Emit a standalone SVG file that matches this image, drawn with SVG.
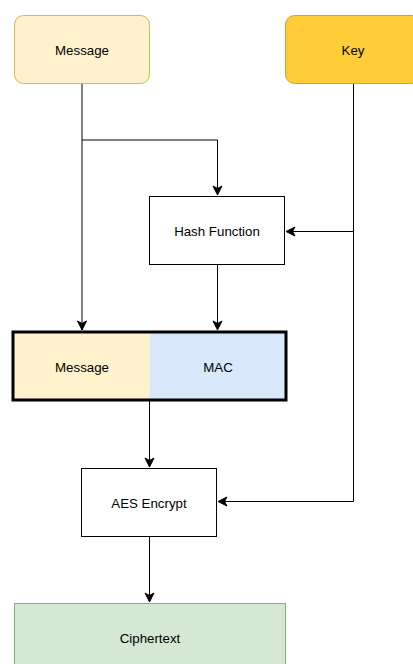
<svg xmlns="http://www.w3.org/2000/svg" width="413" height="664" viewBox="0 0 413 664">
  <style>
    .lbl { font-family: "Liberation Sans", Arial, Helvetica, sans-serif; font-size: 13.3px; fill: #000; text-anchor: middle; dominant-baseline: central; }
    .edge { fill: none; stroke: #000; stroke-width: 1; }
    .plain { fill: #fff; stroke: #000; stroke-width: 1; }
  </style>
  <defs>
    <marker id="arrow" markerUnits="userSpaceOnUse" markerWidth="12" markerHeight="12" viewBox="-10 -6 12 12" refX="0" refY="0" orient="auto">
      <path d="M0,0 L-9,-4.5 L-6.5,0 L-9,4.5 Z" fill="#000" stroke="#000" stroke-width="1" stroke-linejoin="miter"/>
    </marker>
  </defs>
  <rect width="413" height="664" fill="#fff"/>

  <g id="connectors">
    <!-- message to combined block, with branch to hash -->
    <path class="edge" d="M82,83 V330" marker-end="url(#arrow)"/>
    <path class="edge" d="M82,140 H217.5 V195" marker-end="url(#arrow)"/>
    <!-- key feeds hash and AES -->
    <path class="edge" d="M353.5,83 V501.5 H218" marker-end="url(#arrow)"/>
    <path class="edge" d="M353.5,231.5 H286" marker-end="url(#arrow)"/>
    <!-- hash output to MAC -->
    <path class="edge" d="M217.5,264 V330" marker-end="url(#arrow)"/>
    <!-- combined block to AES -->
    <path class="edge" d="M149.5,401 V467" marker-end="url(#arrow)"/>
    <!-- AES to ciphertext -->
    <path class="edge" d="M149.5,536 V602" marker-end="url(#arrow)"/>
  </g>

  <g id="message">
    <rect x="14.5" y="15.5" width="135" height="68" rx="9" fill="#fff2cc" stroke="#d6b656"/>
    <text class="lbl" x="82" y="50">Message</text>
  </g>

  <g id="key">
    <rect x="285.5" y="15.5" width="135" height="68" rx="9" fill="#ffcd38" stroke="#d6a41e"/>
    <text class="lbl" x="353" y="50">Key</text>
  </g>

  <g id="hash">
    <rect class="plain" x="149.5" y="196.5" width="135" height="68"/>
    <text class="lbl" x="217" y="231">Hash Function</text>
  </g>

  <g id="message-mac">
    <rect x="13" y="332" width="136.5" height="68" fill="#fff2cc"/>
    <rect x="149.5" y="332" width="136.5" height="68" fill="#dae8fc"/>
    <rect x="13" y="332" width="273" height="68" fill="none" stroke="#000" stroke-width="3"/>
    <text class="lbl" x="82" y="367">Message</text>
    <text class="lbl" x="218" y="367">MAC</text>
  </g>

  <g id="aes">
    <rect class="plain" x="81.5" y="468.5" width="135" height="68"/>
    <text class="lbl" x="149" y="503">AES Encrypt</text>
  </g>

  <g id="ciphertext">
    <rect x="14.5" y="603.5" width="271" height="68" fill="#d5e8d4" stroke="#82b366"/>
    <text class="lbl" x="150" y="638">Ciphertext</text>
  </g>
</svg>
